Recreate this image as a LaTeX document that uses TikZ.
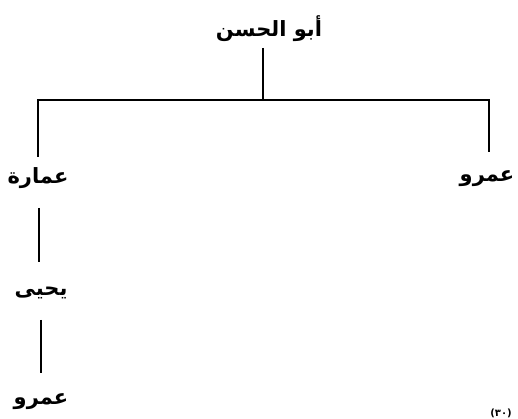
\documentclass[tikz,border=0pt]{standalone}
\usepackage{fontspec}
\newfontfamily\arabicfont[Script=Arabic]{DejaVu Sans}
\TeXXeTstate=1
\begin{document}
\begin{tikzpicture}[x=1pt,y=1pt,
  person/.style={font=\arabicfont\bfseries\fontsize{21}{24}\selectfont, inner sep=0pt},
  tree/.style={line width=2pt}]
\useasboundingbox (0,0) rectangle (518,419);
\node[person] (root) at (269,390) {\beginR أبو الحسن\endR};
\node[person] (amara) at (38,241) {\beginR عمارة\endR};
\node[person] (amr1) at (487,240) {\beginR عمرو\endR};
\node[person] (yahya) at (41,126) {\beginR يحيى\endR};
\node[person] (amr2) at (41,17) {\beginR عمرو\endR};
\node[font=\arabicfont\bfseries\fontsize{10}{11}\selectfont, inner sep=0pt, anchor=south] (page) at (501,0.5) {\beginR (٣٠)\endR};
\coordinate (rt) at (263,371);
\coordinate (junc) at (263,319);
\coordinate (lc) at (38,319);
\coordinate (rc) at (489,319);
\coordinate (lb) at (38,262);
\coordinate (rb) at (489,267);
\draw[tree] (rt) -- (junc);
\draw[tree] (lb) -- (lc) -- (rc) -- (rb);
\draw[tree] (39,211) -- (39,157);
\draw[tree] (41,99) -- (41,46);
\end{tikzpicture}
\end{document}
